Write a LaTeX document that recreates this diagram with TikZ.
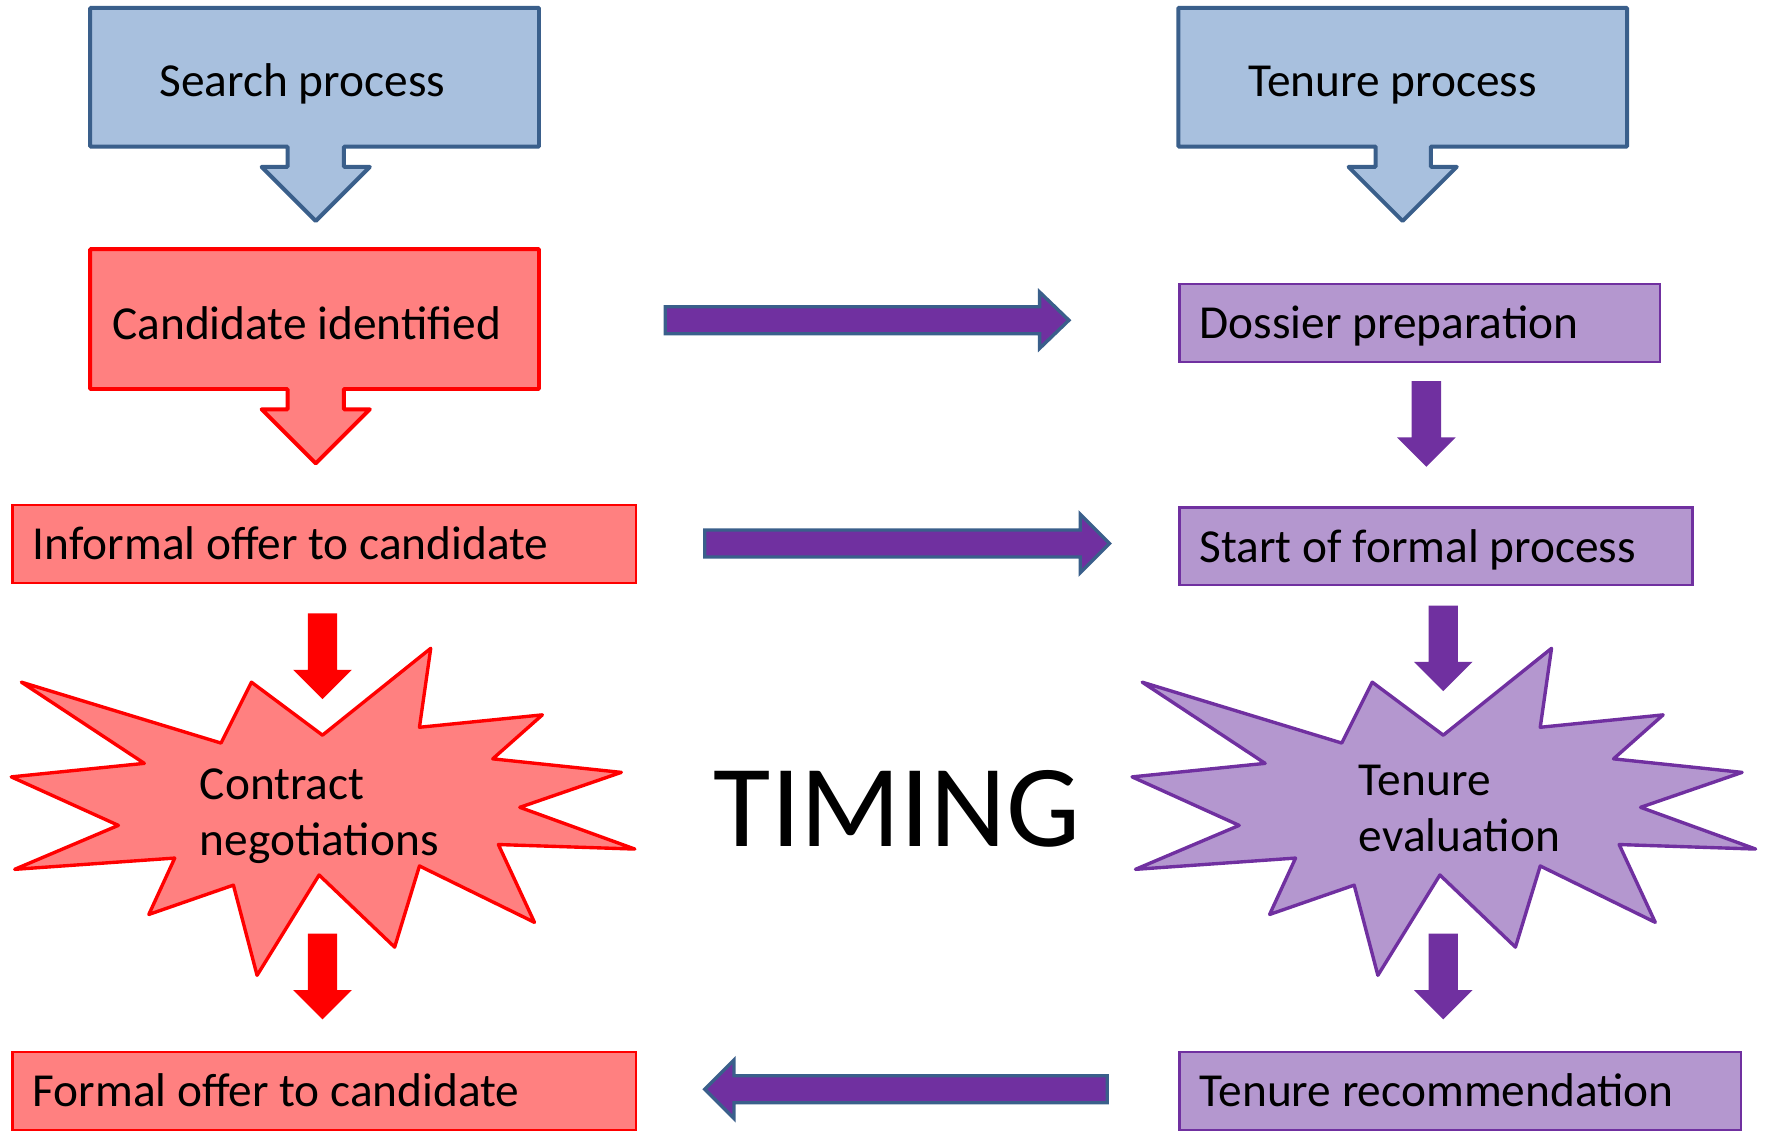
\documentclass[tikz,border=0pt]{standalone}
\usepackage{fontspec}
\setmainfont{Carlito}
\definecolor{bluefill}{HTML}{A8C0DE}
\definecolor{blueline}{HTML}{3A5F8B}
\definecolor{redfill}{HTML}{FF8080}
\definecolor{redline}{HTML}{FF0000}
\definecolor{lavfill}{HTML}{B497CF}
\definecolor{purp}{HTML}{7030A0}
\begin{document}
\begin{tikzpicture}[x=1pt,y=-1pt,
  lbl/.style={font=\fontsize{42}{50}\selectfont, inner sep=0pt},
  bluecall/.style={fill=bluefill, draw=blueline, line width=3.5pt, line join=round},
  redcall/.style={fill=redfill, draw=redline, line width=3.5pt, line join=round},
  flatbox/.style={rectangle, inner xsep=18pt, inner ysep=0pt, minimum height=69pt,
    text height=34pt, text depth=6pt, align=left, anchor=north west,
    execute at begin node={\spaceskip=0pt\xspaceskip=0pt\relax},
    font=\fontsize{42}{50}\selectfont, line width=2pt},
  redbox/.style={flatbox, fill=redfill, draw=redline},
  purbox/.style={flatbox, fill=lavfill, draw=purp},
  redstar/.style={fill=redfill, draw=redline, line width=3pt, line join=round},
  purstar/.style={fill=lavfill, draw=purp, line width=3pt, line join=round},
  harrow/.style={fill=purp, draw=blueline, line width=3pt},
  pics/downarr/.style={code={\path[pic actions] (-13,0) -- (13,0) -- (13,50) -- (26,50) -- (0,76) -- (-26,50) -- (-13,50) -- cycle;}}
]
\useasboundingbox (0,0) rectangle (1568,1003);

% ---------- left column ----------
\draw[bluecall] (80,7) -- (478,7) -- (478,130) -- (305,130) -- (305,148) -- (328,148) -- (280,196) -- (232,148) -- (255,148) -- (255,130) -- (80,130) -- cycle;
\node[lbl, anchor=base] (search) at (268,86) {Search process};

\draw[redcall] (80,221) -- (478,221) -- (478,345) -- (305,345) -- (305,363) -- (328,363) -- (280,411) -- (232,363) -- (255,363) -- (255,345) -- (80,345) -- cycle;
\node[lbl, anchor=base] (cand) at (272,301) {Candidate identified};

\node[redbox, text width=517pt] (informal) at (10,447) {Informal offer to candidate};

\pic[fill=redline] at (286,544) {downarr};

\draw[redstar] (286,652) -- (382,575) -- (372,645) -- (481,634) -- (437,673) -- (551,685) -- (461,716) -- (563,753) -- (442,749) -- (474,818) -- (372,768) -- (350,840) -- (283,776) -- (228,865) -- (207,785) -- (132,811) -- (155,761) -- (13,771) -- (105,732) -- (10,689) -- (128,677) -- (19,605) -- (196,659) -- (223,605) -- cycle;
\node[lbl, anchor=west, align=left] (contract) at (177,724) {Contract\\negotiations};

\pic[fill=redline] at (286,828) {downarr};

\node[redbox, text width=517pt] (formal) at (10,932) {Formal offer to candidate};

% ---------- right column ----------
\draw[bluecall] (1045,7) -- (1443,7) -- (1443,130) -- (1269,130) -- (1269,148) -- (1292,148) -- (1244,196) -- (1196,148) -- (1220,148) -- (1220,130) -- (1045,130) -- cycle;
\node[lbl, anchor=base] (tenure) at (1235,86) {Tenure process};

\node[purbox, text width=390pt] (dossier) at (1045,251) {Dossier preparation};

\pic[fill=purp] at (1265,338) {downarr};

\node[purbox, text width=419pt] (start) at (1045,449) {Start of formal process};

\pic[fill=purp] at (1280,537) {downarr};

\begin{scope}[shift={(994,0)}]
\draw[purstar] (286,652) -- (382,575) -- (372,645) -- (481,634) -- (437,673) -- (551,685) -- (461,716) -- (563,753) -- (442,749) -- (474,818) -- (372,768) -- (350,840) -- (283,776) -- (228,865) -- (207,785) -- (132,811) -- (155,761) -- (13,771) -- (105,732) -- (10,689) -- (128,677) -- (19,605) -- (196,659) -- (223,605) -- cycle;
\end{scope}
\node[lbl, anchor=west, align=left] (evalu) at (1205,717) {Tenure\\evaluation};

\pic[fill=purp] at (1280,828) {downarr};

\node[purbox, text width=462pt] (recom) at (1045,932) {Tenure recommendation};

% ---------- middle ----------
\draw[harrow] (590,272) -- (922,272) -- (922,259) -- (948,284) -- (922,309) -- (922,296) -- (590,296) -- cycle;
\draw[harrow] (625,470) -- (958,470) -- (958,456) -- (984,482) -- (958,508) -- (958,494) -- (625,494) -- cycle;
\draw[harrow] (982,954) -- (651,954) -- (651,940) -- (625,966) -- (651,992) -- (651,978) -- (982,978) -- cycle;

\node[anchor=base west, inner sep=0pt, font=\fontsize{104}{120}\selectfont] (timing) at (633,751) {TIMING};
\end{tikzpicture}
\end{document}
